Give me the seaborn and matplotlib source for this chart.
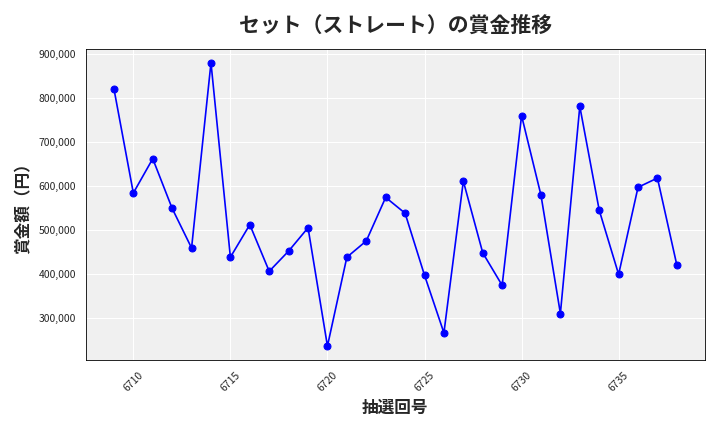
import matplotlib
matplotlib.use('Agg')
import matplotlib.pyplot as plt
import matplotlib.ticker as mticker
import pandas as pd
import seaborn as sns

draws = list(range(6709, 6739))
prizes = [821000, 584000, 662000, 549000, 459000, 880000, 438000, 512000, 406000, 452000,
          505000, 236000, 438000, 475000, 574000, 538000, 397000, 266000, 611000, 448000,
          374000, 760000, 579000, 310000, 781000, 545000, 399000, 597000, 618000, 420000]

sns.set_style('darkgrid', {'axes.facecolor': '#f0f0f0', 'grid.color': 'white'})
plt.rcParams['font.family'] = ['Noto Sans CJK JP', 'DejaVu Sans']

df = pd.DataFrame({'draw': draws, 'prize': prizes})
fig, ax = plt.subplots(figsize=(7.2, 4.32), dpi=100)
sns.lineplot(data=df, x='draw', y='prize', color='blue', marker='o', markersize=5,
             markeredgecolor='blue', linewidth=1.2, ax=ax)
for s in ax.spines.values():
    s.set_visible(True)
    s.set_color('black')
    s.set_linewidth(0.6)
ax.set_title('セット（ストレート）の賞金推移', fontsize=15, fontweight='bold', pad=12)
ax.set_xlabel('抽選回号', fontsize=12, fontweight='bold')
ax.set_ylabel('賞金額（円）', fontsize=12, fontweight='bold')
ax.yaxis.set_major_formatter(mticker.FuncFormatter(lambda v, p: f'{int(v):,}'))
ax.xaxis.set_major_locator(mticker.MultipleLocator(5))
ax.tick_params(axis='x', labelrotation=45, labelsize=7.5)
ax.tick_params(axis='y', labelsize=7.5)
plt.tight_layout()
plt.savefig('out.png')
